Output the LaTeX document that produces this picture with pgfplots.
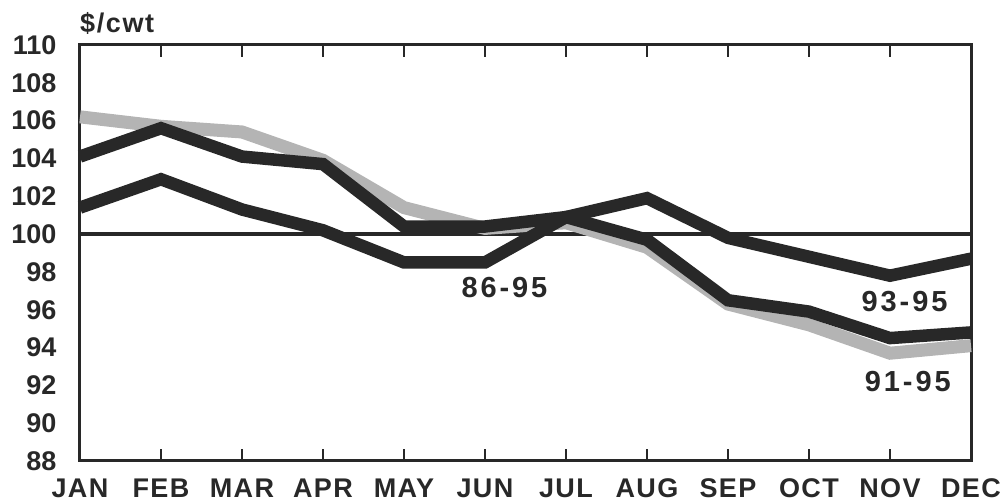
\documentclass[border=0pt]{standalone}
\usepackage{pgfplots}
\pgfplotsset{compat=1.18}
\usepackage{fontspec}
\setmainfont{Liberation Sans}
\newfontfamily\lblfont[LetterSpace=10]{Liberation Sans}
\newfontfamily\monthfont[LetterSpace=5]{Liberation Sans}
\newfontfamily\unitfont[LetterSpace=6]{Liberation Sans}
\definecolor{darkline}{RGB}{40,40,40}
\definecolor{grayline}{RGB}{180,180,180}
\begin{document}
\begin{tikzpicture}
\begin{axis}[
  scale only axis,
  width=891pt, height=416pt,
  xmin=0, xmax=11, ymin=88, ymax=110,
  axis line style={line width=3pt, darkline},
  xtick={0,...,11},
  xticklabels={JAN,FEB,MAR,APR,MAY,JUN,JUL,AUG,SEP,OCT,NOV,DEC},
  ytick={88,90,...,110},
  tick align=inside,
  major tick length=12pt,
  xtick style={line width=1.2pt, darkline},
  ytick style={draw=none},
  x tick label style={font=\fontsize{27}{27}\monthfont\bfseries, text=darkline, yshift=-14pt},
  y tick label style={font=\fontsize{27}{27}\selectfont\bfseries, text=darkline, xshift=-20pt},
  /pgf/number format/assume math mode=true,
  clip=false,
]
% 100 reference line
\addplot[line width=4pt, darkline] coordinates {(0,100) (11,100)};
% 91-95 (gray)
\addplot[line width=13pt, grayline, line join=miter] coordinates {
 (0,106.2) (1,105.7) (2,105.4) (3,103.9) (4,101.4) (5,100.3)
 (6,100.6) (7,99.3) (8,96.3) (9,95.2) (10,93.7) (11,94.1)};
% 93-95 / upper dark
\addplot[line width=12.5pt, darkline, line join=miter] coordinates {
 (0,104.1) (1,105.6) (2,104.1) (3,103.7) (4,100.4) (5,100.4)
 (6,100.9) (7,99.7) (8,96.5) (9,95.9) (10,94.5) (11,94.8)};
% 86-95 / lower dark
\addplot[line width=12.5pt, darkline, line join=miter] coordinates {
 (0,101.4) (1,102.9) (2,101.3) (3,100.2) (4,98.5) (5,98.5)
 (6,100.9) (7,101.9) (8,99.8) (9,98.8) (10,97.8) (11,98.7)};
\node[font=\fontsize{29}{29}\lblfont\bfseries, text=darkline] at (axis cs:5.24,97.15) {86-95};
\node[font=\fontsize{29}{29}\lblfont\bfseries, text=darkline] at (axis cs:10.18,96.45) {93-95};
\node[font=\fontsize{29}{29}\lblfont\bfseries, text=darkline] at (axis cs:10.22,92.2) {91-95};
\node[font=\fontsize{27}{27}\unitfont\bfseries, text=darkline, anchor=base west, inner sep=0pt] at ([yshift=12pt]rel axis cs:0,1) {\$/cwt};
\end{axis}
\pgfresetboundingbox
\path[use as bounding box] (-80pt,-41pt) rectangle (924pt,461pt);
\end{tikzpicture}
\end{document}
